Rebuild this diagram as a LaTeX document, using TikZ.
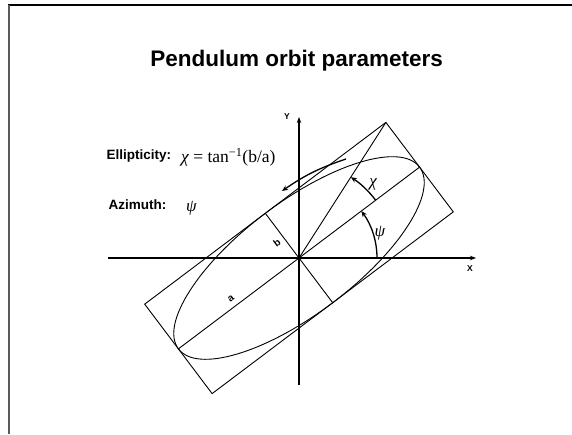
\documentclass[tikz,border=0pt]{standalone}
\usepackage{fontspec}
\setmainfont{Liberation Sans}
\newfontfamily\serifff{Liberation Serif}
\usetikzlibrary{arrows.meta}
\begin{document}
\begin{tikzpicture}[x=1pt,y=1pt,
  thinline/.style={line width=0.9pt},
  axisline/.style={line width=1.4pt,-{Stealth[length=6pt,width=4.5pt]}},
  arcarrow/.style={line width=1.3pt,-{Stealth[length=6pt,width=5pt]}},
  lbl/.style={font=\bfseries\fontsize{13.5}{15}\selectfont, inner sep=0pt},
  axlbl/.style={font=\bfseries\fontsize{8.5}{9}\selectfont, inner sep=0pt},
  greek/.style={font=\serifff\itshape\fontsize{17}{19}\selectfont, inner sep=0pt},
  smalllbl/.style={font=\bfseries\fontsize{10}{11}\selectfont, inner sep=0pt}]
\useasboundingbox (0,-434) rectangle (572,0);
% frame
\draw[line width=1.2pt] (8,-5) -- (572,-5);
\draw[line width=2pt, black!65] (9,-5) -- (9,-434);
% title
\node[anchor=base, inner sep=0pt, font=\bfseries\fontsize{22.5}{25}\selectfont] (title) at (296.7,-66) {Pendulum orbit parameters};
% text labels
\node[lbl, anchor=west] (ell) at (106.5,-156) {Ellipticity:};
\node[anchor=west, inner sep=0pt, font=\serifff\fontsize{17.5}{19}\selectfont] (formula) at (181,-157.5) {{\itshape χ} = tan\textsuperscript{−1}(b/a)};
\node[lbl, anchor=west] (az) at (108.5,-205) {Azimuth:};
\node[greek, anchor=west] (psitxt) at (186,-208) {ψ};
% diagram
\begin{scope}[shift={(299,-258)}]
  \coordinate (O) at (0,0);
  \draw[axisline] (-191,0) coordinate (xl) -- (177,0) coordinate (xr);
  \draw[axisline] (0,-127) coordinate (yb) -- (0,141) coordinate (yt);
  \begin{scope}[rotate=37]
    \coordinate (A1) at (-151,0);
    \coordinate (A2) at (151,0);
    \coordinate (B1) at (0,-56);
    \coordinate (B2) at (0,56);
    \coordinate (C) at (151,56);
    \draw[thinline] (-151,-56) rectangle (151,56);
    \draw[thinline] (O) ellipse [x radius=151, y radius=56];
    \draw[thinline] (A1) -- (A2);
    \draw[thinline] (B1) -- (B2);
    \draw[thinline] (O) -- (C);
  \end{scope}
  \draw[arcarrow] (0:78) arc[start angle=0, end angle=37, radius=78];
  \draw[arcarrow] (37:96) arc[start angle=37, end angle=57.35, radius=96];
\end{scope}
\coordinate (rs) at (346,-159);
\coordinate (re) at (282,-191);
\draw[arcarrow] (rs) to[bend right=8] (re);
\node[axlbl] (X) at (470,-269) {X};
\node[axlbl] (Y) at (287,-117) {Y};
\node[greek] (chi) at (373,-184) {χ};
\node[greek] (psi) at (380,-233) {ψ};
\node[smalllbl, rotate=37] (bl) at (277,-243) {b};
\node[smalllbl, rotate=37] (al) at (231,-299) {a};
\end{tikzpicture}
\end{document}
